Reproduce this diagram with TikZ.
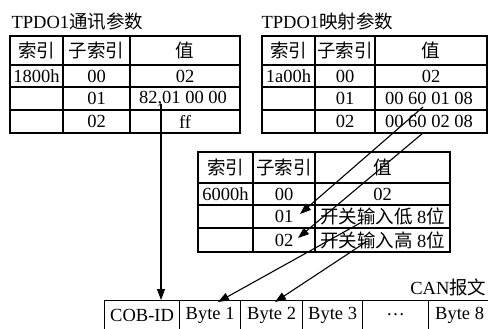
\documentclass[tikz,border=0pt]{standalone}
\usepackage{fontspec}
\setmainfont{Liberation Serif}
\newfontfamily\cjk{Noto Sans CJK SC}
\usetikzlibrary{arrows.meta}
\begin{document}
\begin{tikzpicture}[x=1pt,y=-1pt,line width=1.2pt,
  txt/.style={inner sep=0pt,font=\fontsize{18.5}{18.5}\selectfont},
  cell/.style={draw,rectangle,inner sep=0pt,minimum height=29pt,anchor=north west,font=\fontsize{18.5}{18.5}\selectfont},
  arr/.style={-{Triangle[length=11pt,width=8pt]},line width=1.1pt}]
\useasboundingbox (0,0) rectangle (488,329);

% ---------- Table 1 ----------
\node[txt,anchor=west] (title1) at (11,21.5) {TPDO1{\cjk 通讯参数}};
\draw (10,36) rectangle (240,133);
\draw (10,65) -- (240,65) (10,87) -- (240,87) (10,110) -- (240,110);
\draw (63,36) -- (63,133) (130,36) -- (130,133);
\node[txt] (t1a) at (36.5,50.5) {\cjk 索引};
\node[txt] (t1b) at (96.5,50.5) {\cjk 子索引};
\node[txt] (t1c) at (185,50.5) {\cjk 值};
\node[txt] (t1r1a) at (36.5,76) {1800h};
\node[txt] (t1r1b) at (96.5,76) {00};
\node[txt] (t1r1c) at (185,76) {02};
\node[txt] (t1r2b) at (96.5,98.5) {01};
\node[txt] (t1r2c) at (183,98.5) {82,01 00 00};
\node[txt] (t1r3b) at (96.5,121.5) {02};
\node[txt] (t1r3c) at (185,121.5) {ff};

% ---------- Table 2 ----------
\node[txt,anchor=west] (title2) at (261,21.5) {TPDO1{\cjk 映射参数}};
\draw (262,36) rectangle (487,133);
\draw (262,65) -- (487,65) (262,87) -- (487,87) (262,110) -- (487,110);
\draw (315,36) -- (315,133) (375,36) -- (375,133);
\node[txt] (t2a) at (288.5,50.5) {\cjk 索引};
\node[txt] (t2b) at (345,50.5) {\cjk 子索引};
\node[txt] (t2c) at (431,50.5) {\cjk 值};
\node[txt] (t2r1a) at (288.5,76) {1a00h};
\node[txt] (t2r1b) at (345,76) {00};
\node[txt] (t2r1c) at (431,76) {02};
\node[txt] (t2r2b) at (345,98.5) {01};
\node[txt] (t2r2c) at (429,98.5) {00 60 01 08};
\node[txt] (t2r3b) at (345,121.5) {02};
\node[txt] (t2r3c) at (429,121.5) {00 60 02 08};

% ---------- Table 3 ----------
\draw (198,152) rectangle (450,252);
\draw (198,183) -- (450,183) (198,205) -- (450,205) (198,228) -- (450,228);
\draw (253,152) -- (253,252) (315,152) -- (315,252);
\node[txt] (t3a) at (225.5,167.5) {\cjk 索引};
\node[txt] (t3b) at (284,167.5) {\cjk 子索引};
\node[txt] (t3c) at (382.5,167.5) {\cjk 值};
\node[txt] (t3r1a) at (225.5,194) {6000h};
\node[txt] (t3r1b) at (284,194) {00};
\node[txt] (t3r1c) at (382.5,194) {02};
\node[txt] (t3r2b) at (284,216.5) {01};
\node[txt] (t3r2c) at (382.5,216.5) {{\cjk 开关输入低} 8{\cjk 位}};
\node[txt] (t3r3b) at (284,240) {02};
\node[txt] (t3r3c) at (382.5,240) {{\cjk 开关输入高} 8{\cjk 位}};

% ---------- CAN message ----------
\node[txt,anchor=east] (canlbl) at (487,287) {CAN{\cjk 报文}};
\node[cell,minimum width=75pt] (cob) at (104,300) {COB-ID};
\node[cell,minimum width=61pt] (b1) at (179,300) {Byte 1};
\node[cell,minimum width=62pt] (b2) at (240,300) {Byte 2};
\node[cell,minimum width=60pt] (b3) at (302,300) {Byte 3};
\node[cell,minimum width=66pt] (bd) at (362,300) {\ldots};
\node[cell,minimum width=62pt] (b8) at (428,300) {Byte 8};

% ---------- arrows ----------
\coordinate (s1) at (161,104);
\coordinate (s2) at (423,107);
\coordinate (s3) at (423,133);
\coordinate (e2) at (300,214);
\coordinate (e3) at (298,238);
\coordinate (s4) at (362,222);
\coordinate (s5) at (366,242);
\coordinate (e4) at (218,302);
\coordinate (e5) at (275,302);
\draw[arr] (s1) -- (s1 |- cob.north);
\draw[arr] (s2) -- (e2);
\draw[arr] (s3) -- (e3);
\draw[arr] (s4) -- (e4);
\draw[arr] (s5) -- (e5);
\end{tikzpicture}
\end{document}
